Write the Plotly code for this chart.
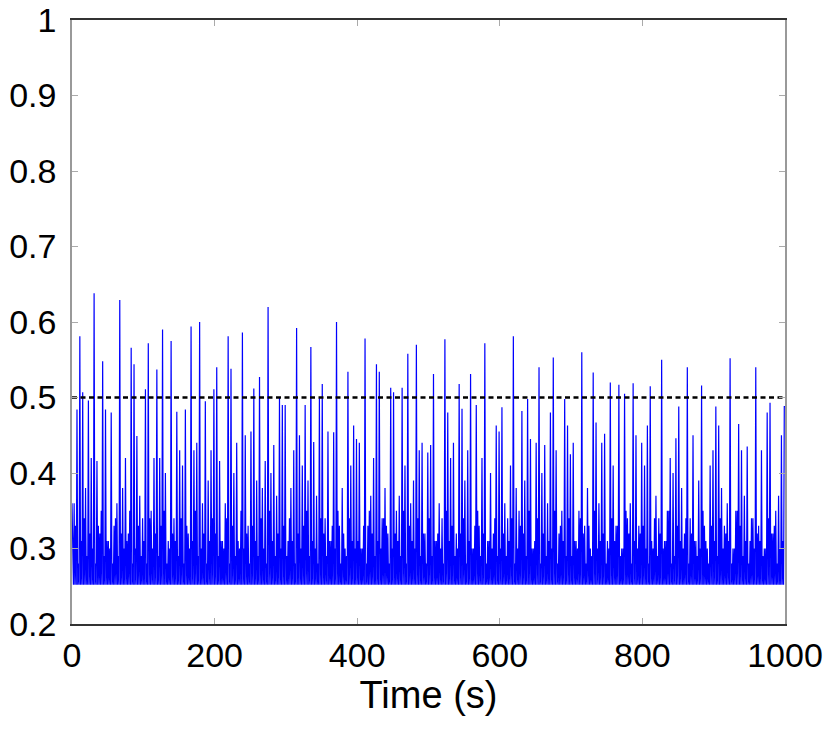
import plotly.graph_objects as go

# Prominent spikes: time (s) and value
spike_t = [6, 10, 16, 24, 30, 34.5, 44, 48.5, 54.6, 68.6, 74.7, 82.6, 88.7, 92.9,
           102.7, 106.9, 113, 120.9, 127, 131.2, 141, 145.2, 150.4, 159.2, 165.3,
           171.3, 179.3, 185.8, 193.8, 199.4, 203.6, 207.8, 217.6, 224.1, 232,
           237.6, 241.8, 252, 255.8, 262.4, 269.5, 276.4, 282, 290.4, 296, 300.2,
           310, 314.6, 320.5, 328.8, 334, 338.4, 348.7, 352.4, 359, 366.4, 372.5,
           387, 393.2, 397, 404, 411.3, 425.3, 431.4, 445.4, 449.6, 463.6, 469.6,
           483.6, 488.8, 498, 502, 507.9, 521.9, 528, 536, 542, 546, 556.6, 560.2,
           566, 575, 580.3, 594, 598, 604, 618.6, 632.6, 638.6, 642.8, 652.7,
           656.6, 662.9, 670.5, 676.5, 691, 694.5, 699, 703.9, 715.2, 729.2, 735,
           743, 749, 753.5, 767.5, 773.6, 787.6, 791.4, 801.6, 806, 811.9, 825.9,
           839, 845.9, 850, 864.1, 870, 884.2, 898, 902.5, 908.4, 922.5, 936.5,
           941, 945, 960.8, 975, 980.4, 995, 999]
spike_v = [0.484, 0.581, 0.507, 0.496, 0.638, 0.416, 0.548, 0.484, 0.48, 0.629, 0.42,
           0.566, 0.544, 0.449, 0.511, 0.572, 0.42, 0.537, 0.59, 0.40, 0.575, 0.481,
           0.43, 0.484, 0.594, 0.43, 0.60, 0.495, 0.43, 0.511, 0.54, 0.416, 0.581,
           0.538, 0.44, 0.586, 0.45, 0.455, 0.512, 0.527, 0.416, 0.62, 0.437, 0.50,
           0.49, 0.49, 0.43, 0.592, 0.45, 0.49, 0.567, 0.441, 0.499, 0.518, 0.455,
           0.454, 0.60, 0.534, 0.463, 0.445, 0.44, 0.578, 0.544, 0.534, 0.513,
           0.507, 0.513, 0.558, 0.57, 0.43, 0.427, 0.437, 0.531, 0.577, 0.48, 0.44,
           0.518, 0.485, 0.43, 0.531, 0.49, 0.42, 0.572, 0.463, 0.455, 0.487,
           0.581, 0.482, 0.498, 0.445, 0.44, 0.54, 0.437, 0.48, 0.553, 0.498, 0.463,
           0.425, 0.44, 0.56, 0.533, 0.467, 0.44, 0.452, 0.52, 0.517, 0.505, 0.519,
           0.45, 0.41, 0.463, 0.515, 0.55, 0.42, 0.446, 0.488, 0.54, 0.45, 0.516,
           0.43, 0.488, 0.463, 0.552, 0.465, 0.43, 0.435, 0.54, 0.48, 0.493, 0.45,
           0.488]

# Background ripple: main peaks (one every 4 s)
ripple_a = [
    0.36, 0.31, 0.40, 0.33, 0.38, 0.30, 0.42, 0.34, 0.37, 0.32, 0.39, 0.35, 0.31, 0.41, 0.33, 0.36, 0.30, 0.38, 0.43, 0.32, 0.35, 0.39, 0.31, 0.37, 0.34,
    0.40, 0.32, 0.35, 0.38, 0.30, 0.42, 0.33, 0.36, 0.31, 0.39, 0.34, 0.37, 0.30, 0.41, 0.35, 0.32, 0.38, 0.33, 0.44, 0.31, 0.36, 0.34, 0.39, 0.30, 0.37,
    0.33, 0.41, 0.31, 0.36, 0.38, 0.32, 0.40, 0.35, 0.30, 0.37, 0.43, 0.33, 0.36, 0.31, 0.39, 0.34, 0.38, 0.32, 0.35, 0.40, 0.30, 0.37, 0.33, 0.42, 0.35,
    0.31, 0.38, 0.34, 0.36, 0.30, 0.41, 0.33, 0.39, 0.35, 0.32, 0.37, 0.30, 0.40, 0.34, 0.36, 0.31, 0.43, 0.35, 0.33, 0.38, 0.30, 0.36, 0.41, 0.32, 0.37,
    0.35, 0.30, 0.39, 0.33, 0.37, 0.42, 0.31, 0.36, 0.34, 0.38, 0.32, 0.40, 0.30, 0.35, 0.37, 0.33, 0.41, 0.31, 0.36, 0.39, 0.34, 0.30, 0.44, 0.32, 0.38,
    0.33, 0.40, 0.31, 0.36, 0.34, 0.38, 0.30, 0.42, 0.35, 0.32, 0.37, 0.31, 0.39, 0.34, 0.36, 0.30, 0.41, 0.33, 0.38, 0.35, 0.31, 0.40, 0.32, 0.37, 0.43,
    0.30, 0.36, 0.34, 0.41, 0.32, 0.38, 0.35, 0.31, 0.39, 0.33, 0.42, 0.30, 0.37, 0.34, 0.40, 0.31, 0.36, 0.33, 0.38, 0.43, 0.32, 0.35, 0.30, 0.39, 0.34,
    0.37, 0.31, 0.35, 0.40, 0.33, 0.38, 0.30, 0.42, 0.34, 0.36, 0.32, 0.39, 0.31, 0.37, 0.41, 0.33, 0.35, 0.30, 0.40, 0.34, 0.36, 0.38, 0.31, 0.33, 0.44,
    0.32, 0.36, 0.39, 0.30, 0.37, 0.34, 0.41, 0.31, 0.35, 0.33, 0.40, 0.36, 0.30, 0.38, 0.32, 0.42, 0.34, 0.37, 0.31, 0.39, 0.35, 0.33, 0.30, 0.41, 0.36,
    0.34, 0.31, 0.38, 0.33, 0.36, 0.42, 0.30, 0.35, 0.39, 0.32, 0.37, 0.40, 0.31, 0.34, 0.38, 0.33, 0.43, 0.30, 0.36, 0.39, 0.32, 0.35, 0.37, 0.31, 0.40,
]
# Background ripple: secondary small peaks (between the main ones)
ripple_b = [
    0.30, 0.33, 0.28, 0.31, 0.34, 0.29, 0.32, 0.30, 0.28, 0.33, 0.35, 0.29, 0.31, 0.30, 0.28, 0.34, 0.29, 0.32, 0.30, 0.31, 0.35, 0.28, 0.30, 0.33, 0.29,
    0.31, 0.28, 0.34, 0.30, 0.32, 0.29, 0.33, 0.35, 0.28, 0.30, 0.32, 0.31, 0.29, 0.34, 0.28, 0.33, 0.30, 0.31, 0.35, 0.29, 0.30, 0.32, 0.28, 0.31, 0.34,
    0.32, 0.29, 0.31, 0.30, 0.34, 0.28, 0.33, 0.29, 0.31, 0.35, 0.30, 0.32, 0.28, 0.33, 0.31, 0.29, 0.34, 0.30, 0.28, 0.35, 0.31, 0.29, 0.32, 0.30, 0.33,
    0.29, 0.34, 0.31, 0.28, 0.32, 0.30, 0.33, 0.35, 0.29, 0.31, 0.30, 0.28, 0.34, 0.32, 0.29, 0.31, 0.33, 0.30, 0.35, 0.28, 0.32, 0.29, 0.34, 0.31, 0.30,
    0.31, 0.30, 0.33, 0.28, 0.35, 0.32, 0.29, 0.31, 0.30, 0.34, 0.33, 0.28, 0.30, 0.32, 0.31, 0.29, 0.35, 0.28, 0.33, 0.31, 0.30, 0.34, 0.29, 0.32, 0.28,
    0.34, 0.29, 0.31, 0.32, 0.30, 0.28, 0.35, 0.31, 0.33, 0.29, 0.30, 0.32, 0.34, 0.28, 0.31, 0.30, 0.33, 0.35, 0.29, 0.32, 0.28, 0.31, 0.30, 0.34, 0.29,
    0.30, 0.32, 0.29, 0.31, 0.34, 0.28, 0.30, 0.33, 0.32, 0.29, 0.35, 0.30, 0.31, 0.34, 0.28, 0.32, 0.29, 0.31, 0.30, 0.35, 0.28, 0.33, 0.31, 0.29, 0.34,
    0.29, 0.31, 0.30, 0.34, 0.32, 0.28, 0.33, 0.29, 0.35, 0.30, 0.31, 0.32, 0.28, 0.30, 0.34, 0.31, 0.33, 0.29, 0.30, 0.35, 0.32, 0.28, 0.31, 0.30, 0.32,
    0.33, 0.30, 0.28, 0.31, 0.34, 0.29, 0.32, 0.30, 0.31, 0.35, 0.28, 0.29, 0.33, 0.31, 0.30, 0.34, 0.28, 0.32, 0.31, 0.29, 0.30, 0.35, 0.31, 0.28, 0.33,
    0.31, 0.29, 0.34, 0.30, 0.32, 0.31, 0.28, 0.30, 0.35, 0.33, 0.29, 0.31, 0.28, 0.34, 0.30, 0.32, 0.31, 0.29, 0.30, 0.34, 0.32, 0.33, 0.28, 0.30, 0.31,
]
trough_level = 0.252
start_value = 0.36
threshold = 0.5

x_ticks = [0, 200, 400, 600, 800, 1000]
y_ticks = [0.2, 0.3, 0.4, 0.5, 0.6, 0.7, 0.8, 0.9, 1.0]
y_labels = ["0.2", "0.3", "0.4", "0.5", "0.6", "0.7", "0.8", "0.9", "1"]

# Build the series. Per 4 s block: trough, small peak, trough, main peak.
peaks = list(ripple_a)
n = len(peaks)
used = [False] * n
for t, v in sorted(zip(spike_t, spike_v)):
    idx = int(round((t - 3) / 4))
    for off in [0, 1, -1, 2, -2, 3, -3]:
        j = idx + off
        if 0 <= j < n and not used[j]:
            peaks[j] = v
            used[j] = True
            break

xs, ys = [], []
for k in range(n):
    xs += [4 * k, 4 * k + 1, 4 * k + 2, 4 * k + 3]
    ys += [trough_level, ripple_b[k], trough_level, peaks[k]]
ys[0] = start_value
xs.append(1000)
ys.append(spike_v[-1])

fig = go.Figure()
fig.add_trace(go.Scatter(x=xs, y=ys, mode="lines",
                         line=dict(color="#0000ff", width=1.2), showlegend=False))
fig.add_trace(go.Scatter(x=[0, 1000], y=[threshold, threshold], mode="lines",
                         line=dict(color="black", width=2.6, dash="5px,3.5px"),
                         showlegend=False))

font = "Liberation Sans, Arial, sans-serif"
fig.update_layout(
    width=831, height=729,
    margin=dict(l=64, r=54, t=12, b=113),
    paper_bgcolor="white", plot_bgcolor="white",
    font=dict(family=font, size=34, color="black"),
    xaxis=dict(range=[0, 1000], tickvals=x_ticks, ticktext=[str(v) for v in x_ticks],
               showgrid=False, zeroline=False, showline=True, linecolor="#333333",
               linewidth=1.5, mirror="ticks", ticks="inside", ticklen=6,
               tickcolor="#aaaaaa", tickfont=dict(size=34), automargin=False,
               ticklabeloverflow="allow",
               title=dict(text="Time (s)", font=dict(size=38), standoff=6)),
    yaxis=dict(range=[0.2, 1.0], tickvals=y_ticks, ticktext=y_labels,
               showgrid=False, zeroline=False, showline=True, linecolor="#999999",
               linewidth=1.5, mirror="ticks", ticks="inside", ticklen=6,
               tickcolor="#aaaaaa", tickfont=dict(size=34), ticklabelstandoff=7,
               automargin=False, ticklabeloverflow="allow"),
)
fig.write_html("out.html")
